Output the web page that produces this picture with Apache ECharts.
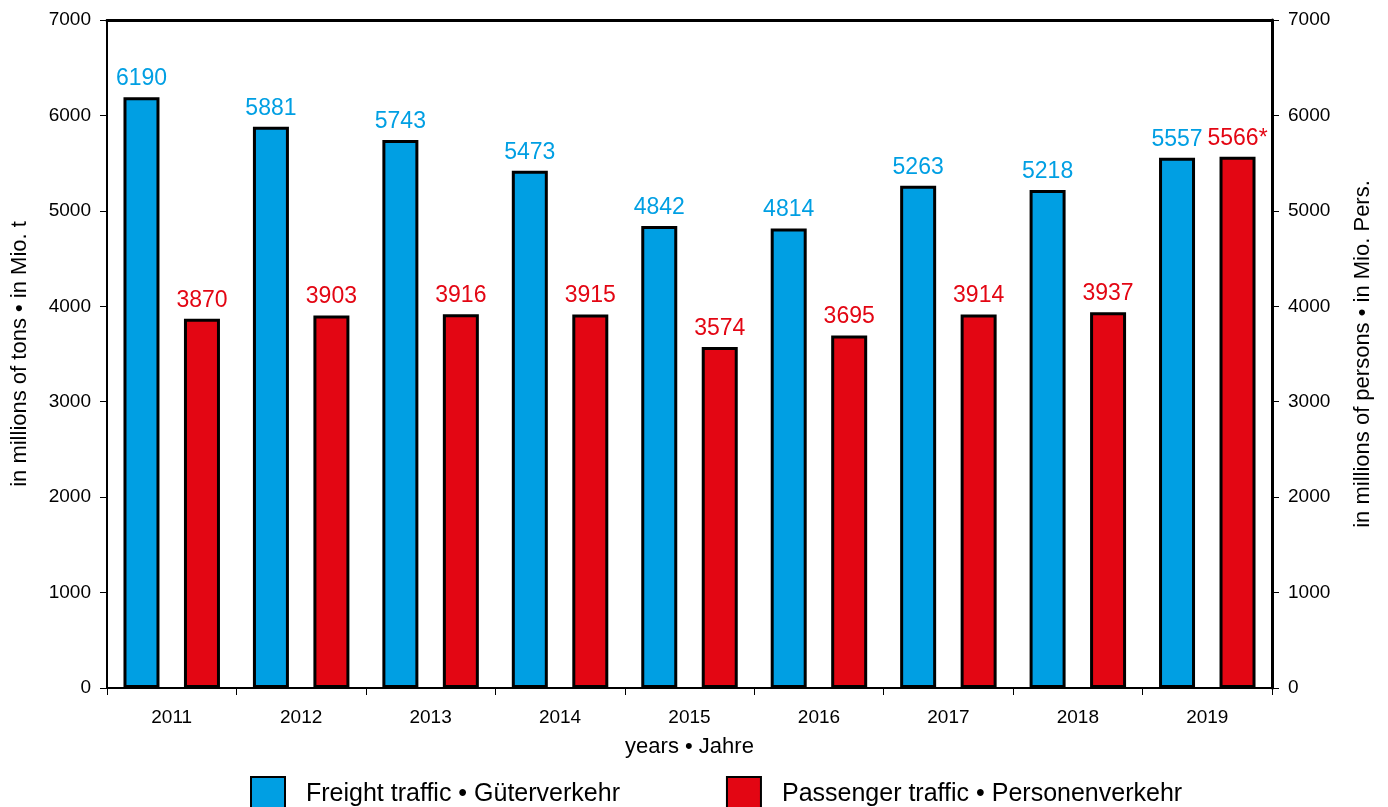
<!DOCTYPE html>
<html>
<head>
<meta charset="utf-8">
<script src="https://cdn.jsdelivr.net/npm/echarts@6/dist/echarts.min.js"></script>
<style>
html,body{margin:0;padding:0;background:#fff;}
#chart{width:1388px;height:807px;}
</style>
</head>
<body>
<div id="chart"></div>
<script>
const years = ['2011','2012','2013','2014','2015','2016','2017','2018','2019'];
const freightValues = [6190, 5881, 5743, 5420, 4842, 4814, 5263, 5218, 5557];
const freightLabels = ['6190','5881','5743','5473','4842','4814','5263','5218','5557'];
const passengerValues = [3870, 3903, 3916, 3915, 3574, 3695, 3914, 3937, 5566];
const passengerLabels = ['3870','3903','3916','3915','3574','3695','3914','3937','5566*'];
const yTicks = [0,1000,2000,3000,4000,5000,6000,7000];

const BLUE = '#009FE3', RED = '#E30613';
const FONT = 'Liberation Sans, Arial, sans-serif';

const chart = echarts.init(document.getElementById('chart'));
const yAxisBase = (pos, lw, name) => ({
  type: 'value', position: pos, min: yTicks[0], max: yTicks[yTicks.length-1], interval: 1000,
  name: name, nameLocation: 'middle', nameGap: pos === 'left' ? 76 : 80,
  nameTextStyle: {fontFamily: FONT, fontSize: 22, color: '#000'},
  axisLine: {show: true, lineStyle: {color: '#000', width: lw}},
  axisTick: {show: true, length: 7, lineStyle: {color: '#000', width: 1}},
  axisLabel: {fontFamily: FONT, fontSize: 19, color: '#000', margin: 16, formatter: v => String(v)},
  splitLine: {show: false}
});
chart.setOption({
  animation: false,
  grid: {left: 107, right: 116, top: 20, bottom: 119, containLabel: false, outerBoundsMode: 'none'},
  legend: {
    bottom: -10, left: 245, itemWidth: 34, itemHeight: 34, itemGap: 106, icon: 'rect',
    textStyle: {fontFamily: FONT, fontSize: 25, color: '#000', padding: [0,0,0,16]},
    data: ['Freight traffic • Güterverkehr', 'Passenger traffic • Personenverkehr']
  },
  xAxis: [{
    type: 'category', data: years, position: 'bottom',
    name: 'years • Jahre', nameLocation: 'middle', nameGap: 48,
    nameTextStyle: {fontFamily: FONT, fontSize: 22, color: '#000'},
    axisLine: {lineStyle: {color: '#000', width: 2}},
    axisTick: {show: true, length: 7, alignWithLabel: false, lineStyle: {color: '#000', width: 1}},
    axisLabel: {fontFamily: FONT, fontSize: 19, color: '#000', margin: 20}
  }, {
    type: 'category', data: years, position: 'top',
    axisLine: {show: true, onZero: false, lineStyle: {color: '#000', width: 3}},
    axisTick: {show: false}, axisLabel: {show: false}
  }],
  yAxis: [
    yAxisBase('left', 2, 'in millions of tons • in Mio. t'),
    yAxisBase('right', 3, 'in millions of persons • in Mio. Pers.')
  ],
  series: [{
    name: 'Freight traffic • Güterverkehr', type: 'bar', yAxisIndex: 0,
    data: freightValues, barWidth: 36, barGap: '68%',
    itemStyle: {color: BLUE, borderColor: '#000', borderWidth: 3},
    label: {show: true, position: 'top', distance: 7, fontFamily: FONT, fontSize: 23, color: BLUE,
      formatter: p => freightLabels[p.dataIndex]}
  }, {
    name: 'Passenger traffic • Personenverkehr', type: 'bar', yAxisIndex: 1,
    data: passengerValues, barWidth: 36,
    itemStyle: {color: RED, borderColor: '#000', borderWidth: 3},
    label: {show: true, position: 'top', distance: 7, fontFamily: FONT, fontSize: 23, color: RED,
      formatter: p => passengerLabels[p.dataIndex]}
  }]
});
</script>
</body>
</html>
